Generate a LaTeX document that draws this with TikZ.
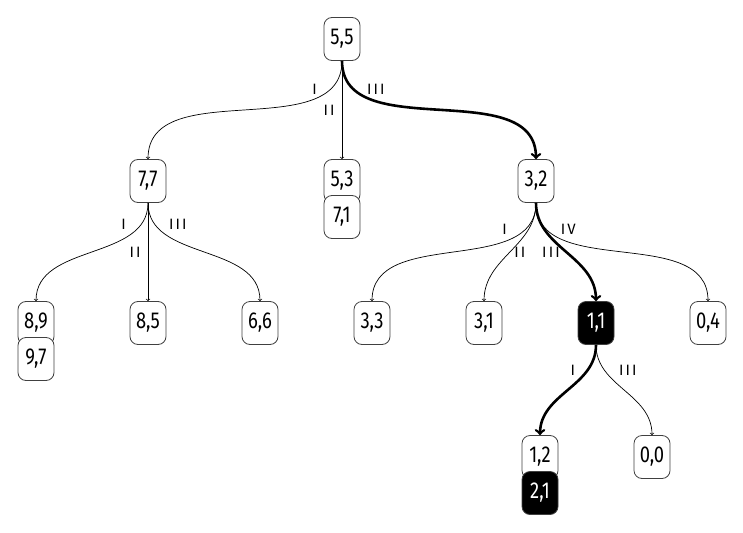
\documentclass[tikz,border=0pt]{standalone}
\usepackage{fontspec}
\setsansfont{Fira Sans}[FakeStretch=0.8]
\newfontfamily\etichfont{Fira Sans}[LetterSpace=14]
\renewcommand{\familydefault}{\sfdefault}
\tikzset{
  stato/.style={draw=black!75, line width=0.8pt, fill=white, rounded corners=8pt, minimum width=36pt,
    minimum height=43pt, inner sep=0pt, font=\fontsize{23}{25}\selectfont},
  scelto/.style={stato, fill=black, text=white},
  mossa/.style={->, line width=0.7pt},
  mossaforte/.style={->, line width=2.6pt},
  etich/.style={font=\etichfont\fontsize{15}{17}\selectfont, inner sep=1pt}
}
\begin{document}
\begin{tikzpicture}[x=1pt, y=-1pt]
        \useasboundingbox (0,0) rectangle (743,532);

        % --- Stati (i nodi dell'albero) ---
        \node[stato] (n55) at (342,39) {5,5};

        \node[stato] (n77) at (148,181) {7,7};
        \node[stato] (n53) at (342,181) {5,3};
        \node[stato] (n71) at (342,217) {7,1};
        \node[stato] (n32) at (536,181) {3,2};

        \node[stato] (n89) at (36,323) {8,9};
        \node[stato] (n97) at (36,359) {9,7};
        \node[stato] (n85) at (148,323) {8,5};
        \node[stato] (n66) at (260,323) {6,6};
        \node[stato] (n33) at (372,323) {3,3};
        \node[stato] (n31) at (484,323) {3,1};
        \node[scelto] (n11) at (596,323) {1,1};
        \node[stato] (n04) at (708,323) {0,4};

        \node[stato] (n12) at (540,457) {1,2};
        \node[scelto] (n21) at (540,493) {2,1};
        \node[stato] (n00) at (652,457) {0,0};

        % --- Mosse dalla radice ---
        \draw[mossa] (n55.south) to[out=-90, in=90] node[etich, pos=0.15, left=12pt] {I} (n77.north);
        \draw[mossa] (n55.south) -- node[etich, midway, left=6pt] {II} (n53.north);
        \draw[mossaforte] (n55.south) to[out=-90, in=90] node[etich, pos=0.15, right=11pt] {III} (n32.north);

        % --- Mosse da 7,7 ---
        \draw[mossa] (n77.south) to[out=-90, in=90] node[etich, pos=0.15, left=14pt] {I} (n89.north);
        \draw[mossa] (n77.south) -- node[etich, midway, left=6pt] {II} (n85.north);
        \draw[mossa] (n77.south) to[out=-90, in=90] node[etich, pos=0.15, right=13pt] {III} (n66.north);

        % --- Mosse da 3,2 ---
        \draw[mossa] (n32.south) to[out=-90, in=90] node[etich, pos=0.15, left=18pt] {I} (n33.north);
        \draw[mossa] (n32.south) to[out=-90, in=90] node[etich, pos=0.5, right=3pt] {II} (n31.north);
        \draw[mossaforte] (n32.south) to[out=-90, in=90] node[etich, pos=0.5, left=4pt] {III} (n11.north);
        \draw[mossa] (n32.south) to[out=-90, in=90] node[etich, pos=0.15, right=13pt] {IV} (n04.north);

        % --- Mosse da 1,1 ---
        \draw[mossaforte] (n11.south) to[out=-90, in=90] node[etich, pos=0.25, left=10pt] {I} (n12.north);
        \draw[mossa] (n11.south) to[out=-90, in=90] node[etich, pos=0.25, right=13pt] {III} (n00.north);

    \end{tikzpicture}
\end{document}
